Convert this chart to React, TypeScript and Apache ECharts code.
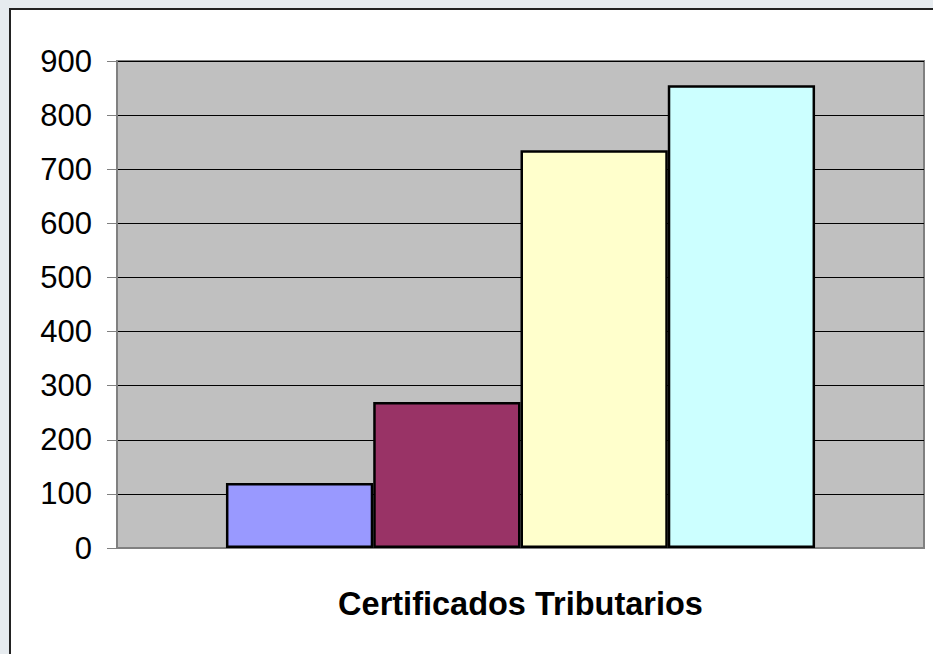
import React, { useEffect, useRef } from "react";
import * as echarts from "echarts";

const category = ["Certificados Tributarios"];
const seriesNames = ["Serie 1", "Serie 2", "Serie 3", "Serie 4"];
const seriesValues = [120, 270, 735, 855];
const seriesColors = ["#9999ff", "#993366", "#ffffcc", "#ccffff"];
const yTicks = { min: 0, max: 900, interval: 100 };

export default function App() {
  const ref = useRef<HTMLDivElement>(null);
  useEffect(() => {
    if (!ref.current) return;
    const chart = echarts.init(ref.current, null, { renderer: "svg" });
    chart.setOption({
      animation: false,
      backgroundColor: "transparent",
      graphic: [
        {
          type: "rect",
          silent: true,
          z: -10,
          shape: { x: 10, y: 9, width: 940, height: 660 },
          style: { fill: "#ffffff", stroke: "#222222", lineWidth: 2 },
        },
      ],
      grid: {
        left: 117,
        top: 61,
        right: 9,
        bottom: 106,
        show: true,
        backgroundColor: "#c0c0c0",
        borderColor: "#808080",
        borderWidth: 2,
        containLabel: false,
      },
      xAxis: {
        type: "category",
        data: category,
        axisLine: { show: true, lineStyle: { color: "#808080", width: 2 } },
        axisTick: { show: false },
        axisLabel: {
          margin: 39,
          fontFamily: "Liberation Sans, Arial, sans-serif",
          fontWeight: "bold",
          fontSize: 32.5,
          color: "#000000",
        },
      },
      yAxis: {
        type: "value",
        min: yTicks.min,
        max: yTicks.max,
        interval: yTicks.interval,
        axisLine: { show: true, lineStyle: { color: "#808080", width: 1 } },
        axisTick: { show: true, length: 10, lineStyle: { color: "#808080" } },
        splitLine: { show: true, lineStyle: { color: "#000000", width: 1 } },
        axisLabel: {
          margin: 25,
          fontFamily: "Liberation Sans, Arial, sans-serif",
          fontSize: 31,
          color: "#000000",
        },
      },
      series: seriesNames.map((name, i) => ({
        name,
        type: "bar",
        data: [seriesValues[i]],
        barGap: "0%",
        barCategoryGap: "27%",
        itemStyle: {
          color: seriesColors[i],
          borderColor: "#000000",
          borderWidth: 2.5,
        },
      })),
    });
    return () => chart.dispose();
  }, []);
  return (
    <div
      style={{
        position: "fixed",
        left: 0,
        top: 0,
        width: 933,
        height: 654,
        background: "#e6ebef",
      }}
    >
      <div ref={ref} style={{ width: 933, height: 654 }} />
    </div>
  );
}
